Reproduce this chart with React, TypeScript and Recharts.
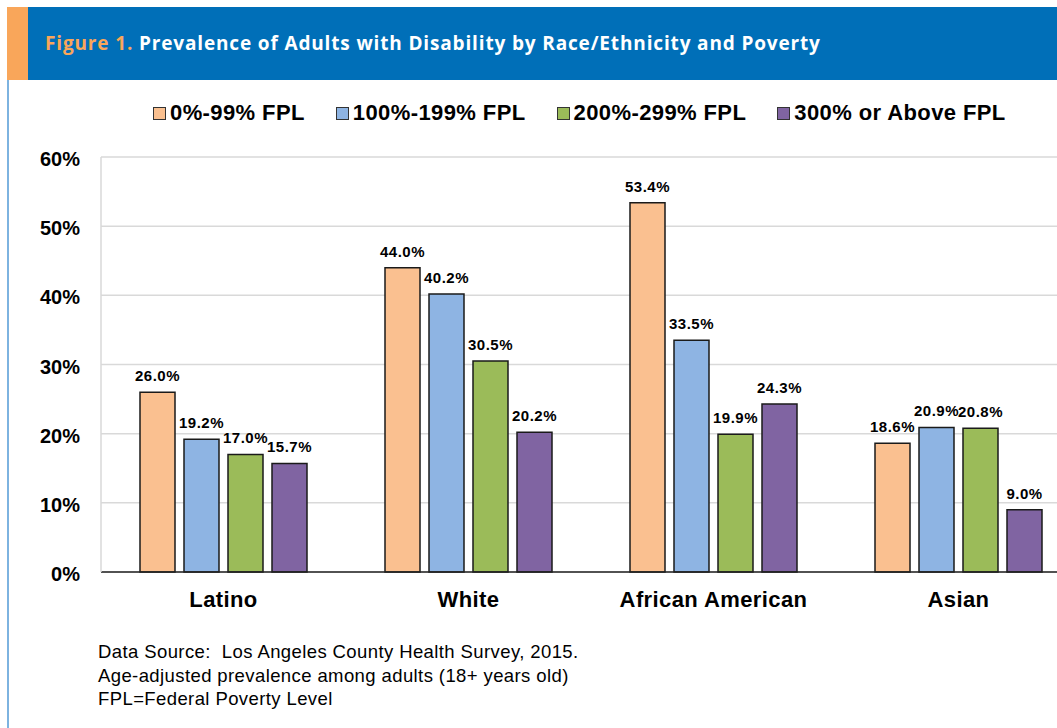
import React from 'react';
import { BarChart, Bar, XAxis, YAxis, CartesianGrid, Legend, LabelList } from 'recharts';

const groups = ['Latino', 'White', 'African American', 'Asian'];
const fpl0to99 = [26.0, 44.0, 53.4, 18.6];
const fpl100to199 = [19.2, 40.2, 33.5, 20.9];
const fpl200to299 = [17.0, 30.5, 19.9, 20.8];
const fpl300plus = [15.7, 20.2, 24.3, 9.0];
const yTicks = [0, 10, 20, 30, 40, 50, 60];

const seriesNames = ['0%-99% FPL', '100%-199% FPL', '200%-299% FPL', '300% or Above FPL'];
const seriesColors = ['#FAC090', '#8EB4E3', '#9BBB59', '#8064A2'];
const seriesValues = [fpl0to99, fpl100to199, fpl200to299, fpl300plus];

const data = groups.map((group, i) => ({
  group,
  s0: fpl0to99[i],
  s1: fpl100to199[i],
  s2: fpl200to299[i],
  s3: fpl300plus[i],
}));

const ARIAL = '"Liberation Sans", Arial, sans-serif';

const renderLegend = (props: any) => {
  const items = props.payload || [];
  return (
    <div
      style={{
        display: 'flex',
        alignItems: 'center',
        gap: 31,
        fontFamily: ARIAL,
        fontWeight: 700,
        fontSize: 22,
        letterSpacing: 0.4,
        color: '#000',
        whiteSpace: 'nowrap',
      }}
    >
      {items.map((item: any) => (
        <div key={item.value} style={{ display: 'flex', alignItems: 'center' }}>
          <span
            style={{
              display: 'inline-block',
              width: 11,
              height: 11,
              background: item.color,
              border: '1.5px solid #333',
              marginRight: 4,
            }}
          />
          <span>{item.value}</span>
        </div>
      ))}
    </div>
  );
};

const App: React.FC = () => {
  return (
    <div style={{ position: 'absolute', left: 0, top: 0, width: 1057, height: 728, overflow: 'hidden', background: '#fff' }}>
      {/* header band */}
      <div style={{ position: 'absolute', left: 7, top: 7, width: 1050, height: 73, background: '#006FB8' }} />
      <div style={{ position: 'absolute', left: 7, top: 7, width: 21, height: 73, background: '#F9A65A' }} />
      <div style={{ position: 'absolute', left: 7, top: 80, width: 2, height: 648, background: '#7DB3E0' }} />
      <div
        style={{
          position: 'absolute',
          left: 45,
          top: 30,
          fontFamily: '"Open Sans", "Noto Sans", sans-serif',
          fontWeight: 700,
          fontSize: 19,
          letterSpacing: 0.85,
          color: '#fff',
          whiteSpace: 'nowrap',
        }}
      >
        <span style={{ color: '#F9A65A' }}>Figure 1.</span> Prevalence of Adults with Disability by Race/Ethnicity and Poverty
      </div>

      <div style={{ position: 'absolute', left: 0, top: 0 }}>
        <BarChart
          width={1100}
          height={728}
          data={data}
          margin={{ top: 157, right: 19, left: 0, bottom: 116 }}
          barSize={35}
          barGap={9}
        >
          <CartesianGrid vertical={false} stroke="#D9D9D9" strokeWidth={1.5} />
          <XAxis
            dataKey="group"
            height={40}
            tickLine={false}
            tickSize={0}
            tickMargin={19}
            axisLine={{ stroke: '#222', strokeWidth: 1.5 }}
            tick={{ fill: '#000', fontSize: 22, fontWeight: 700, fontFamily: ARIAL, letterSpacing: 0.4 }}
          />
          <YAxis
            width={101}
            domain={[0, 60]}
            ticks={yTicks}
            tickFormatter={(v: number) => `${v}%`}
            tickLine={false}
            tickSize={0}
            tickMargin={21}
            axisLine={{ stroke: '#D9D9D9', strokeWidth: 1.5 }}
            tick={{ fill: '#000', fontSize: 20, fontWeight: 700, fontFamily: ARIAL, dy: 2 }}
          />
          <Legend
            layout="horizontal"
            verticalAlign="middle"
            align="center"
            content={renderLegend}
            wrapperStyle={{ top: 100, left: 153, width: 920, height: 26 }}
          />
          {seriesValues.map((_, i) => (
            <Bar
              key={seriesNames[i]}
              dataKey={`s${i}`}
              name={seriesNames[i]}
              fill={seriesColors[i]}
              stroke="#1A1A1A"
              strokeWidth={1.5}
              isAnimationActive={false}
            >
              <LabelList
                dataKey={`s${i}`}
                position="top"
                offset={11}
                formatter={(v: any) => `${Number(v).toFixed(1)}%`}
                style={{ fill: '#000', fontSize: 15, fontWeight: 700, fontFamily: ARIAL, letterSpacing: 0.5 }}
              />
            </Bar>
          ))}
        </BarChart>
      </div>

      <div
        style={{
          position: 'absolute',
          left: 98,
          top: 640,
          fontFamily: ARIAL,
          fontSize: 18.5,
          letterSpacing: 0.4,
          lineHeight: '23.5px',
          color: '#000',
          whiteSpace: 'nowrap',
        }}
      >
        <div>Data Source:&nbsp; Los Angeles County Health Survey, 2015.</div>
        <div>Age-adjusted prevalence among adults (18+ years old)</div>
        <div>FPL=Federal Poverty Level</div>
      </div>
    </div>
  );
};

export default App;
